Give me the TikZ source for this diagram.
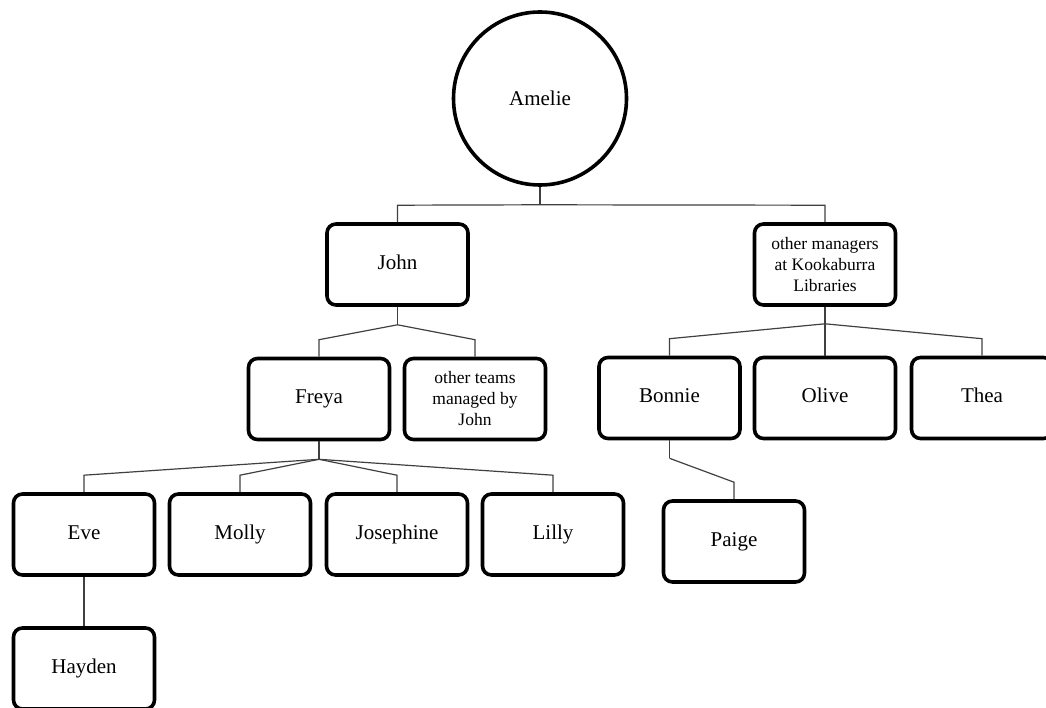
\documentclass[tikz,border=0pt]{standalone}
\usepackage{fontspec}
\setmainfont{Liberation Serif}
\usetikzlibrary{positioning,calc}

\begin{document}
\begin{tikzpicture}[
    x=1pt, y=-1pt,
    box/.style={rectangle, rounded corners=9pt, minimum width=141pt, minimum height=81pt, line width=3.6pt, draw=black, fill=white, align=center},
    person/.style={box, font=\fontsize{21}{25}\selectfont, text height=14pt, text depth=4.5pt},
    group/.style={box, font=\fontsize{17.5}{21}\selectfont},
    boss/.style={circle, minimum size=173pt, line width=3.6pt, draw=black, fill=white, font=\fontsize{21}{25}\selectfont},
    link/.style={line width=1.2pt, draw=black!75}
]
\useasboundingbox (0,0) rectangle (1046,708);

% top
\node[boss] (amelie) at (540,98.5) {Amelie};

% managers
\node[person] (john) at (397.5,264.5) {John};
\node[group] (mgr) at (825,264.5) {other managers\\at Kookaburra\\Libraries};

% teams
\node[person] (freya) at (319,399) {Freya};
\node[group] (teams) at (475,399) {other teams\\managed by\\John};
\node[person] (bonnie) at (669.5,398) {Bonnie};
\node[person] (olive) at (825,398) {Olive};
\node[person] (thea) at (982,398) {Thea};

% staff
\node[person] (eve) at (84,534.5) {Eve};
\node[person] (molly) at (240,534.5) {Molly};
\node[person] (josephine) at (397,534.5) {Josephine};
\node[person] (lilly) at (553,534.5) {Lilly};
\node[person] (paige) at (734,541.5) {Paige};
\node[person] (hayden) at (84,668.5) {Hayden};

% connectors
\draw[link] (amelie.south) -- ++(0,18) coordinate (amelie-j);
\foreach \c in {john,mgr}
    \draw[link] (amelie-j) -- ($(\c.north)+(0,-17)$) -- (\c.north);

\draw[link] (john.south) -- ++(0,18) coordinate (john-j);
\foreach \c in {freya,teams}
    \draw[link] (john-j) -- ($(\c.north)+(0,-17)$) -- (\c.north);

\draw[link] (mgr.south) -- ++(0,17) coordinate (mgr-j);
\foreach \c in {bonnie,olive,thea}
    \draw[link] (mgr-j) -- ($(\c.north)+(0,-17)$) -- (\c.north);

\draw[link] (freya.south) -- ++(0,18) coordinate (freya-j);
\foreach \c in {eve,molly,josephine,lilly}
    \draw[link] (freya-j) -- ($(\c.north)+(0,-17)$) -- (\c.north);

\draw[link] (bonnie.south) -- ++(0,18) coordinate (bonnie-j);
\draw[link] (bonnie-j) -- ($(paige.north)+(0,-17)$) -- (paige.north);

\draw[link] (eve.south) -- (hayden.north);

\end{tikzpicture}
\end{document}
